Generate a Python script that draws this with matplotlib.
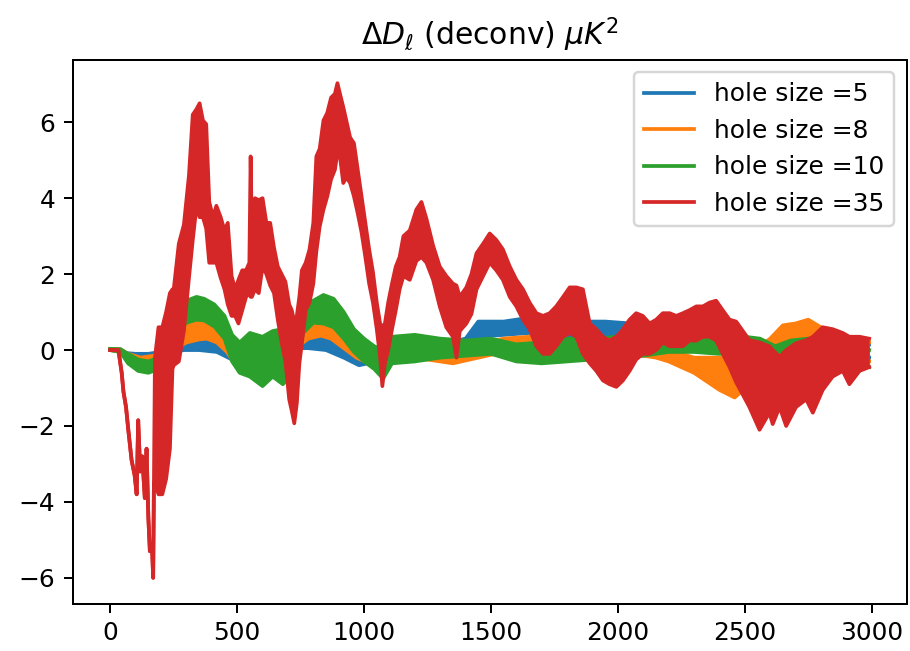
import matplotlib
matplotlib.use("Agg")
import matplotlib.pyplot as plt
import numpy as np

# Multipole values and the lower / upper extent of each noisy residual curve.
# Where lower == upper the curve is a single thin trace.

labels = ["hole size =5", "hole size =8", "hole size =10", "hole size =35"]

ell_h5 = [0, 40, 60, 100, 150, 200, 250, 290, 350, 420, 480, 520, 600, 700, 780,
          850, 920, 980, 1050, 1150, 1300, 1400, 1450, 1550, 1650, 1750, 1850, 1950,
          2050, 2150, 2300, 2450, 2600, 2750, 2900, 2990]
lo_h5 = [0, -0.05, -0.2, -0.25, -0.25, -0.2, -0.05, 0.0, 0.0, -0.05, -0.25, -0.2, -0.1,
         0.05, 0.05, 0.0, -0.2, -0.4, -0.3, -0.15, -0.05, 0.1, 0.35, 0.4, 0.45, 0.4,
         0.35, 0.3, 0.3, 0.2, 0.1, -0.1, -0.2, -0.2, -0.2, -0.2]
hi_h5 = [0.03, 0.02, -0.08, -0.1, -0.1, -0.05, 0.1, 0.22, 0.25, 0.2, -0.05, 0.0, 0.1,
         0.3, 0.35, 0.3, 0.05, -0.15, -0.05, 0.1, 0.15, 0.3, 0.75, 0.75, 0.85, 0.75,
         0.75, 0.75, 0.7, 0.55, 0.45, 0.3, 0.2, 0.2, 0.15, 0.15]

ell_h8 = [0, 40, 70, 120, 170, 220, 260, 300, 350, 380, 420, 460, 500, 540, 600, 680,
          740, 780, 830, 870, 920, 970, 1020, 1080, 1150, 1250, 1350, 1450, 1550, 1650,
          1750, 1850, 1950, 2050, 2150, 2200, 2300, 2400, 2460, 2520, 2600, 2650, 2700,
          2750, 2800, 2850, 2920, 2990]
lo_h8 = [0, -0.05, -0.3, -0.4, -0.4, -0.2, 0.05, 0.2, 0.28, 0.3, 0.2, -0.05, -0.45, -0.3,
         -0.2, -0.1, 0.1, 0.3, 0.38, 0.3, 0.05, -0.2, -0.35, -0.35, -0.2, -0.25, -0.35,
         -0.2, -0.05, 0.0, -0.05, -0.15, -0.15, -0.1, -0.2, -0.3, -0.6, -1.05, -1.25,
         -0.9, -0.3, 0.1, 0.1, 0.1, 0.05, -0.2, -0.3, -0.3]
hi_h8 = [0.03, 0.02, -0.1, -0.2, -0.15, 0.05, 0.35, 0.65, 0.78, 0.8, 0.7, 0.4, -0.1, 0.0,
         0.1, 0.2, 0.5, 0.85, 0.95, 0.9, 0.6, 0.25, 0.0, 0.0, 0.1, 0.1, 0.05, 0.15, 0.3,
         0.35, 0.25, 0.15, 0.1, 0.1, 0.05, 0.0, -0.2, -0.2, -0.25, -0.1, 0.3, 0.65, 0.7,
         0.8, 0.6, 0.3, 0.2, 0.2]

ell_h10 = [0, 40, 70, 110, 150, 190, 230, 260, 300, 340, 370, 410, 450, 480, 510, 550,
           600, 640, 680, 720, 760, 800, 840, 880, 920, 960, 1000, 1040, 1075, 1110,
           1200, 1300, 1400, 1500, 1600, 1700, 1800, 1900, 2000, 2100, 2200, 2300, 2400,
           2500, 2560, 2620, 2680, 2750, 2850, 2990]
lo_h10 = [0, -0.05, -0.35, -0.55, -0.6, -0.5, -0.1, 0.45, 0.72, 0.8, 0.78, 0.62, 0.3, -0.3,
          -0.6, -0.7, -0.95, -0.7, -0.9, -0.6, 0.45, 0.72, 0.7, 0.6, 0.3, -0.05, -0.3, -0.5,
          -0.75, -0.35, -0.3, -0.2, -0.15, -0.1, -0.3, -0.35, -0.3, -0.25, -0.2, -0.15,
          -0.05, -0.05, -0.1, -0.1, -0.2, -0.5, -0.3, -0.25, -0.35, -0.45]
hi_h10 = [0.03, 0.02, -0.1, -0.25, -0.3, -0.2, 0.3, 1.05, 1.3, 1.4, 1.35, 1.2, 0.9, 0.4,
          0.2, 0.45, 0.35, 0.5, 0.55, 0.6, 1.1, 1.3, 1.45, 1.35, 1.0, 0.55, 0.3, 0.1, 0.0,
          0.35, 0.4, 0.3, 0.25, 0.3, 0.15, 0.2, 0.3, 0.3, 0.35, 0.3, 0.35, 0.35, 0.35,
          0.35, 0.3, 0.1, 0.25, 0.3, 0.2, 0.0]

ell_h35 = [0, 32, 45, 52, 62, 71, 84, 96, 104, 110, 118, 126, 136, 143, 150, 156, 164,
           169, 172, 176, 190, 205, 220, 235, 245,
           250, 270, 290, 310, 325, 340, 352, 365, 378, 390, 405, 418, 435, 450,
           463, 478, 492, 505, 520, 535, 548, 553, 558, 570, 585, 600, 615, 630, 645,
           660, 675, 690, 705, 715, 725, 735, 745, 755, 770, 785, 800, 812, 825, 840,
           855, 870, 885, 895, 905, 918, 930, 945, 960, 975, 990, 1005, 1020, 1035,
           1050, 1063, 1072, 1082, 1095, 1110, 1125, 1140, 1155, 1180, 1206, 1226, 1246,
           1272, 1298, 1324, 1350, 1364, 1377, 1403, 1423, 1443, 1469, 1495, 1521, 1547,
           1574, 1600, 1626, 1652, 1679, 1705, 1731, 1757, 1784, 1810, 1836, 1862, 1889,
           1915, 1941, 1967, 1994, 2020, 2046, 2072, 2098, 2125, 2151, 2177, 2204, 2230,
           2256, 2282, 2309, 2335, 2361, 2387, 2413, 2440, 2466, 2518, 2558, 2597, 2610,
           2637, 2663, 2702, 2742, 2768, 2807, 2846, 2886, 2912, 2952, 2990]
lo_h35 = [0, 0, -0.6, -1.1, -1.5, -2.1, -2.9, -3.3, -3.8, -1.85, -3.2, -2.8, -3.9, -2.6,
          -4.4, -5.3, -5.1, -6.0, -3.5, -3.5, -3.8, -3.8, -3.4, -2.6, -0.5,
          -0.4, -0.3, 0.5, 1.9, 2.9, 3.8, 3.5, 3.5,
          3.2, 2.3, 2.3, 2.3, 1.9, 1.6, 1.2, 0.9, 0.9, 0.7, 1.05, 1.4, 1.5, 1.4, 1.4,
          1.6, 1.5, 2.2, 2.0, 1.7, 1.5, 0.8, 0.2, -0.3, -1.3, -1.6, -1.93, -1.4, -0.35,
          0.18, 1.05, 1.25, 1.75, 2.6, 3.25, 3.7, 4.05, 4.5, 4.75, 5.2, 5.1, 4.4, 4.55,
          4.4, 4.05, 3.6, 3.1, 2.45, 1.75, 1.25, 0.55, -0.18, -0.95, -0.35, 0.0, 0.55,
          1.05, 1.6, 1.95, 1.85, 2.35, 2.45, 2.3, 1.85, 1.15, 0.6, 0.35, -0.2, 0.5, 0.7,
          0.95, 1.6, 1.95, 2.3, 2.1, 1.85, 1.4, 1.15, 0.8, 0.55, 0.1, -0.1, -0.1, 0.1,
          0.35, 0.45, 0.35, -0.1, -0.35, -0.55, -0.8, -0.9, -0.97, -0.8, -0.55, -0.25,
          -0.1, -0.1, 0.0, 0.2, 0.1, 0.1, 0.1, 0.25, 0.25, 0.35, 0.35, 0.25, -0.1, -0.45,
          -0.85, -1.5, -2.1, -1.65, -1.95, -1.5, -2.0, -1.5, -1.3, -1.65, -1.05, -0.7,
          -0.55, -0.9, -0.55, -0.45]
hi_h35 = [0, 0, -0.6, -1.1, -1.5, -2.1, -2.9, -3.3, -3.8, -1.85, -3.2, -2.8, -3.9, -2.6,
          -4.4, -5.3, -5.1, -6.0, -3.5, -0.2, 0.6, 0.6, 1.0, 1.5, 1.6,
          1.6, 2.8, 3.3, 4.6, 6.2, 6.35, 6.5, 6.05,
          5.95, 3.9, 3.5, 3.8, 3.5, 3.15, 3.35, 1.95, 1.6, 1.85, 2.1, 2.1, 2.3, 5.1, 3.0,
          4.0, 3.95, 4.0, 3.35, 3.35, 2.7, 2.2, 2.0, 1.8, 1.2, 1.05, 0.75, 0.9, 1.4, 2.1,
          2.3, 2.65, 3.35, 5.1, 5.3, 6.05, 6.25, 6.65, 6.75, 7.03, 6.75, 6.4, 6.05, 5.6,
          5.45, 4.75, 4.05, 3.35, 2.65, 2.05, 1.25, 0.7, 0.6, 0.7, 1.25, 1.75, 2.2, 2.45,
          3.0, 3.15, 3.7, 3.9, 3.45, 2.75, 2.2, 1.95, 1.75, 1.7, 1.4, 1.65, 2.0, 2.55,
          2.8, 3.07, 2.9, 2.65, 2.2, 1.85, 1.6, 1.25, 0.97, 0.9, 0.97, 1.15, 1.4, 1.65,
          1.65, 1.6, 0.7, 0.55, 0.35, 0.25, 0.35, 0.55, 0.8, 0.97, 0.9, 0.7, 0.8, 0.97,
          0.97, 0.9, 0.97, 1.05, 1.15, 1.15, 1.25, 1.3, 1.05, 0.8, 0.75, 0.26, 0.2, 0.1,
          0.0, -0.18, 0.0, 0.18, 0.26, 0.35, 0.6, 0.55, 0.45, 0.35, 0.35, 0.3]

series = [
    (ell_h5, lo_h5, hi_h5),
    (ell_h8, lo_h8, hi_h8),
    (ell_h10, lo_h10, hi_h10),
    (ell_h35, lo_h35, hi_h35),
]
colors = ["C0", "C1", "C2", "C3"]

DPI = 179.3
fig = plt.figure(figsize=(910 / DPI, 651 / DPI), dpi=DPI)
ax = fig.add_axes([0.0799, 0.0722, 0.9165, 0.8356])

# each curve gets its own layer so later curves sit fully on top of earlier ones
for k, ((ell, lo, hi), col, lab) in enumerate(zip(series, colors, labels)):
    ell = np.asarray(ell, float)
    lo = np.asarray(lo, float)
    hi = np.asarray(hi, float)
    z = 2 + k
    ax.fill_between(ell, lo, hi, color=col, linewidth=0, zorder=z)
    ax.plot(ell, lo, color=col, lw=1.5, label=lab, zorder=z)
    ax.plot(ell, hi, color=col, lw=1.5, zorder=z)

ax.set_xlim(-148, 3138)
ax.set_ylim(-6.69, 7.64)
ax.set_xticks([0, 500, 1000, 1500, 2000, 2500, 3000])
ax.set_yticks([-6, -4, -2, 0, 2, 4, 6])
ax.set_title(r"$\Delta D_\ell$ (deconv) $\mu K^2$")
ax.legend(loc="upper right")

fig.savefig("out.png", dpi=DPI)
